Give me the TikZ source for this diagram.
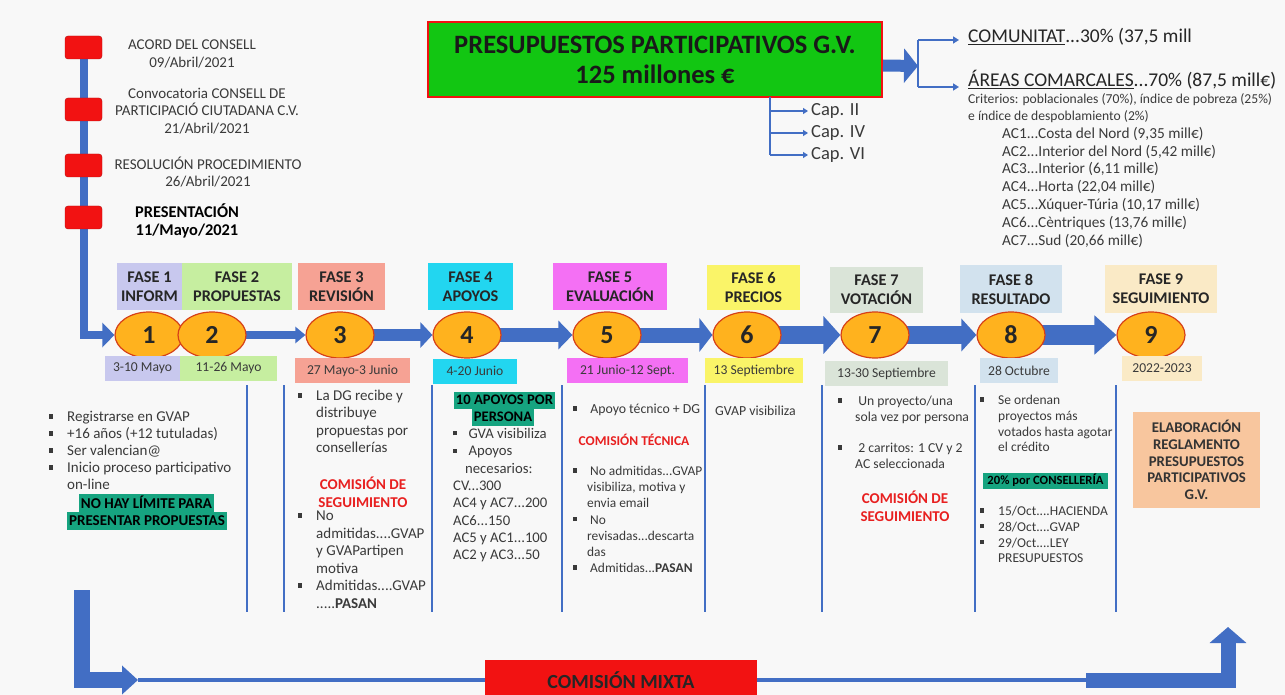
\documentclass[tikz,border=0pt]{standalone}
\usepackage{fontspec}
\setmainfont{Carlito}
\usetikzlibrary{positioning,arrows.meta,calc,shapes.geometric}

\definecolor{gvblue}{RGB}{66,110,196}
\definecolor{boxred}{RGB}{242,18,18}
\definecolor{redtext}{RGB}{232,32,32}
\definecolor{gvgreen}{RGB}{18,198,18}
\definecolor{hlteal}{RGB}{22,164,128}
\definecolor{txtgrey}{RGB}{58,58,58}
\definecolor{circfill}{RGB}{255,178,30}
\definecolor{circline}{RGB}{214,64,24}
\definecolor{elabfill}{RGB}{248,198,158}
\definecolor{faseA}{RGB}{200,200,238}
\definecolor{faseB}{RGB}{198,238,160}
\definecolor{faseC}{RGB}{246,162,148}
\definecolor{faseD}{RGB}{34,214,240}
\definecolor{faseE}{RGB}{244,112,244}
\definecolor{faseF}{RGB}{250,244,104}
\definecolor{faseG}{RGB}{218,228,216}
\definecolor{faseH}{RGB}{210,226,238}
\definecolor{faseI}{RGB}{250,234,198}
\definecolor{pagebg}{RGB}{248,248,248}

\pgfdeclarelayer{bg}
\pgfsetlayers{bg,main}

\newcommand{\bul}[1][14pt]{\llap{\rule[3pt]{4.4pt}{4.4pt}\hspace{#1}}}

\begin{document}
\begin{tikzpicture}[x=1pt,y=-1pt,
  redbox/.style={rounded corners=3pt,fill=boxred,draw=boxred!75!black,minimum width=37pt,minimum height=23pt},
  hito/.style={align=center,inner sep=0pt,text=txtgrey,font=\fontsize{15}{17.5}\selectfont},
  fase/.style={fill=#1,minimum height=47pt,align=center,inner sep=0pt,text=black!85,font=\fontsize{16.3}{19}\selectfont\bfseries},
  fecha/.style={fill=#1,minimum height=25pt,inner sep=0pt,text=txtgrey,font=\fontsize{13.6}{15}\selectfont},
  num/.style={ellipse,fill=circfill,draw=circline,line width=1.2pt,minimum width=68pt,minimum height=46pt,inner sep=0pt,text=black!85,font=\fontsize{26}{26}\selectfont\bfseries},
  flow/.style args={#1/#2/#3}{draw=gvblue,line width=#1pt,-{Triangle[length=#3pt,width=#2pt]}},
  sep/.style={draw=gvblue,line width=2.6pt},
  rama/.style={draw=gvblue,line width=2.2pt},
  capt/.style={anchor=west,inner sep=0pt,text=txtgrey,font=\fontsize{18.5}{20}\selectfont},
  reparto/.style={anchor=west,inner sep=0pt,text=black!85,font=\fontsize{19.5}{22}\selectfont},
  txt/.style={anchor=north west,align=left,inner sep=0pt,text=txtgrey,font=\fontsize{15}{17}\selectfont},
  redtxt/.style={align=center,inner sep=0pt,text=redtext,font=\fontsize{15}{18}\selectfont\bfseries},
  hl/.style={fill=hlteal,inner xsep=2pt,inner ysep=0pt,minimum height=18pt,text=black,font=\fontsize{15}{16}\selectfont\bfseries},
]

\begin{pgfonlayer}{bg}
  \fill[pagebg] (0,0) rectangle (1285,695);
\end{pgfonlayer}
\useasboundingbox (0,0) rectangle (1285,695);

\node[draw=boxred,line width=2pt,fill=gvgreen,minimum width=454pt,minimum height=75pt,align=center,text=black!90,font=\fontsize{26.5}{30}\selectfont\bfseries] (gv) at (655,59.5) {PRESUPUESTOS PARTICIPATIVOS G.V.\\125 millones €};

\node[capt] (cap2) at (811,111) {Cap. II};
\node[capt] (cap4) at (811,133) {Cap. IV};
\node[capt] (cap6) at (811,155) {Cap. VI};

\node[reparto] (com) at (968,37) {\underline{COMUNITAT}...30\% (37,5 mill};
\node[reparto] (areas) at (968,80) {\underline{ÁREAS COMARCALES}...70\% (87,5 mill€)};
\node[txt,font=\fontsize{13.6}{17}\selectfont] (crit) at (968,93) {Criterios: poblacionales (70\%), índice de pobreza (25\%)\\e índice de despoblamiento (2\%)};
\node[txt,font=\fontsize{15.3}{17.8}\selectfont] (acs) at (1002,127) {AC1...Costa del Nord (9,35 mill€)\\AC2...Interior del Nord (5,42 mill€)\\AC3...Interior (6,11 mill€)\\AC4...Horta (22,04 mill€)\\AC5...Xúquer-Túria (10,17 mill€)\\AC6...Cèntriques (13,76 mill€)\\AC7...Sud (20,66 mill€)};

\node[redbox] (r1) at (83.5,47.5) {};
\node[redbox] (r2) at (83.5,109.5) {};
\node[redbox] (r3) at (83.5,165.5) {};
\node[redbox] (r4) at (83.5,217.5) {};
\node[hito] (t1) at (192,54) {ACORD DEL CONSELL\\09/Abril/2021};
\node[hito] (t2) at (207,111) {Convocatoria CONSELL DE\\PARTICIPACIÓ CIUTADANA C.V.\\21/Abril/2021};
\node[hito] (t3) at (208,172) {RESOLUCIÓN PROCEDIMIENTO\\26/Abril/2021};
\node[hito,text=black,font=\fontsize{16.4}{18.5}\selectfont\bfseries] (t4) at (187,221) {PRESENTACIÓN\\11/Mayo/2021};

\node[fase=faseA,minimum width=65pt] (f1) at (149.5,286.5) {FASE 1\\INFORM};
\node[fase=faseB,minimum width=110pt] (f2) at (237,286.5) {FASE 2\\PROPUESTAS};
\node[fase=faseC,minimum width=87pt] (f3) at (341.5,286.5) {FASE 3\\REVISIÓN};
\node[fase=faseD,minimum width=85pt] (f4) at (470.5,286.5) {FASE 4\\APOYOS};
\node[fase=faseE,minimum width=114pt] (f5) at (610,286.5) {FASE 5\\EVALUACIÓN};
\node[fase=faseF,minimum width=93pt,minimum height=45pt] (f6) at (753.5,287.5) {FASE 6\\PRECIOS};
\node[fase=faseG,minimum width=93pt,minimum height=46pt] (f7) at (876.5,290) {FASE 7\\VOTACIÓN};
\node[fase=faseH,minimum width=102pt,minimum height=48pt] (f8) at (1011,289) {FASE 8\\RESULTADO};
\node[fase=faseI,minimum width=112pt,minimum height=48pt] (f9) at (1161,289) {FASE 9\\SEGUIMIENTO};

\foreach \n/\x in {1/149,2/212,3/340,4/467,5/607,6/747,7/875,8/1011,9/1151}
  \node[num] (c\n) at (\x,335) {\n};

\node[fecha=faseA,minimum width=75pt] (d1) at (142.5,368.5) {3-10 Mayo};
\node[fecha=faseB,minimum width=97pt] (d2) at (228.5,368.5) {11-26 Mayo};
\node[fecha=faseC,minimum width=115pt] (d3) at (352.5,370.5) {27 Mayo-3 Junio};
\node[fecha=faseD,minimum width=84pt] (d4) at (475,371) {4-20 Junio};
\node[fecha=faseE,minimum width=121pt] (d5) at (627.5,370.5) {21 Junio-12 Sept.};
\node[fecha=faseF,minimum width=98pt] (d6) at (754,370.5) {13 Septiembre};
\node[fecha=faseG,minimum width=123pt] (d7) at (886.5,373.5) {13-30 Septiembre};
\node[fecha=faseH,minimum width=78pt] (d8) at (1019,370.5) {28 Octubre};
\node[fecha=faseI,minimum width=80pt] (d9) at (1162,368.5) {2022-2023};

\foreach \sx in {247,284,432,562,705,822,975,1116}
  \draw[sep] (\sx,385) -- (\sx,612);

\node[txt] (b1) at (67,411) {\bul Registrarse en GVAP\\ \bul +16 años (+12 tutuladas)\\ \bul Ser valencian@\\ \bul Inicio proceso participativo\\ on-line};
\node[hl] (h1a) at (146.5,502.5) {NO HAY LÍMITE PARA};
\node[hl] (h1b) at (147,521) {PRESENTAR PROPUESTAS};

\node[txt,font=\fontsize{15}{17.3}\selectfont] (b2) at (316,390) {\bul La DG recibe y\\ distribuye\\ propuestas por\\ consellerías};
\node[redtxt] (s2) at (363,492) {COMISIÓN DE\\SEGUIMIENTO};
\node[txt,font=\fontsize{15}{17.5}\selectfont] (b2b) at (316,511) {\bul No\\ admitidas....GVAP\\ y GVAPartipen\\ motiva\\ \bul Admitidas....GVAP\\ .....\textbf{PASAN}};

\node[hl,minimum height=17pt,font=\fontsize{14.6}{16}\selectfont\bfseries] (h3a) at (504.5,400) {10 APOYOS POR};
\node[hl,minimum height=17pt,font=\fontsize{14.6}{16}\selectfont\bfseries] (h3b) at (503,417) {PERSONA};
\node[txt,font=\fontsize{14.7}{17.5}\selectfont] (b3) at (465,428) {\bul[8pt] GVA visibiliza\\ \bul[8pt] Apoyos\\ necesarios:};
\node[txt,font=\fontsize{14.7}{17.25}\selectfont] (b3b) at (453,481) {CV...300\\ AC4 y AC7...200\\ AC6...150\\ AC5 y AC1...100\\ AC2 y AC3...50};

\node[txt,font=\fontsize{13.8}{17}\selectfont] (b4) at (587,404) {\bul[10pt] Apoyo técnico + DG};
\node[redtxt,font=\fontsize{13.5}{17}\selectfont\bfseries] (s4) at (634,440) {COMISIÓN TÉCNICA};
\node[txt,font=\fontsize{13.4}{16.2}\selectfont] (b4b) at (587,466) {\bul[10pt] No admitidas...GVAP\\ visibiliza, motiva y\\ envia email\\ \bul[10pt] No\\ revisadas...descarta\\ das\\ \bul[10pt] Admitidas...\textbf{PASAN}};

\node[txt,font=\fontsize{13.8}{17}\selectfont] (b5) at (715,406) {GVAP visibiliza};

\node[txt,font=\fontsize{13.7}{16}\selectfont] (b6) at (855,396) {\bul[13pt] Un proyecto/una\\ sola vez por persona};
\node[txt,font=\fontsize{13.7}{16}\selectfont] (b6b) at (855,443) {\bul[13pt] 2 carritos: 1 CV y 2\\ AC seleccionada};
\node[redtxt] (s6) at (905,506) {COMISIÓN DE\\SEGUIMIENTO};

\node[txt,font=\fontsize{13.5}{15.8}\selectfont] (b7) at (998,395) {\bul Se ordenan\\ proyectos más\\ votados hasta agotar\\ el crédito};
\node[hl,minimum width=125pt,minimum height=16pt,font=\fontsize{12.6}{14}\selectfont\bfseries] (h7) at (1045.5,480.5) {20\% por CONSELLERÍA};
\node[txt,font=\fontsize{13.5}{15.8}\selectfont] (b7b) at (998,506) {\bul 15/Oct....HACIENDA\\ \bul 28/Oct....GVAP\\ \bul 29/Oct....LEY\\ PRESUPUESTOS};

\node[fill=elabfill,minimum width=127pt,minimum height=96pt,align=center,text=black!80,font=\fontsize{14.8}{16.8}\selectfont\bfseries] (el) at (1196.5,460) {ELABORACIÓN\\REGLAMENTO\\PRESUPUESTOS\\PARTICIPATIVOS\\G.V.};

\node[fill=boxred,minimum width=272pt,minimum height=40pt,text=black!85,font=\fontsize{20}{22}\selectfont\bfseries] (cm) at (621,680) {COMISIÓN MIXTA};

\coordinate (ga) at (918,66);
\coordinate (bt) at (918,40);
\coordinate (bb) at (918,87);
\coordinate (ct) at (770,97);
\coordinate (bl) at (82,590);
\coordinate (ba) at (138,680);
\coordinate (bra) at (1086,680);
\coordinate (brb) at (1228,627);

\draw[flow=12/34/14] ([yshift=-6pt]gv.east) -- (ga);
\draw[rama] (bt) -- (bb);
\draw[rama,-{Triangle[length=6pt,width=7pt]},shorten >=9pt] (bt) -- (bt -| com.west);
\draw[rama,-{Triangle[length=6pt,width=7pt]},shorten >=9pt] (bb) -- (bb -| areas.west);

\draw[rama] (ct) -- (ct |- cap6);
\foreach \k in {2,4,6}
  \draw[rama,-{Triangle[length=5pt,width=6pt]},shorten >=3pt] (ct |- cap\k) -- (cap\k.west);

\draw[flow=16/28/16] (bl) |- (ba);
\draw[gvblue,line width=4pt] (ba) -- (cm.west);
\draw[gvblue,line width=4pt] (cm.east) -- (bra);
\draw[flow=15/36/16] (bra) -| (brb);

\begin{pgfonlayer}{bg}
  \draw[flow=8/24/12] (r1.center) |- (c1.west);
  \foreach \a/\b/\lwd/\hwd/\tln in {2/3/8/16/10,3/4/12/25/12,4/5/14/28/14,5/6/15/33/13,6/7/18/37/17,7/8/18/32/15,8/9/20/38/22}
    \draw[flow=\lwd/\hwd/\tln] (c\a.center) -- (c\b.west);
\end{pgfonlayer}

\end{tikzpicture}
\end{document}
